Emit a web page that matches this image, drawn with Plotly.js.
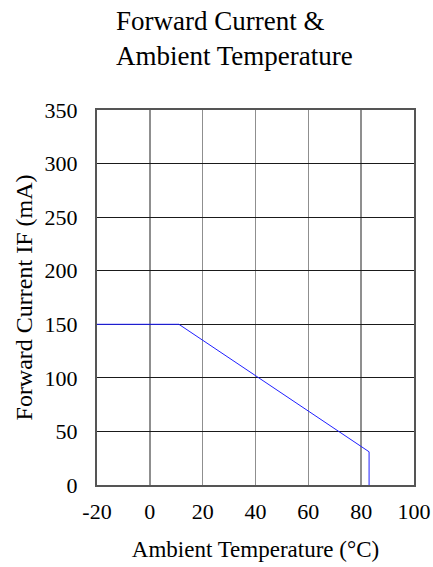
<!DOCTYPE html>
<html><head><meta charset="utf-8">
<script src="https://cdn.plot.ly/plotly-3.0.1.min.js"></script>
<style>html,body{margin:0;padding:0;background:#fff}#chart{width:433px;height:567px}</style>
</head><body><div id="chart"></div>
<script>
var tempC = [-20, 11, 83, 83];
var currentMA = [150, 150, 31, 0];
var xTicks = [-20, 0, 20, 40, 60, 80, 100];
var yTicks = [0, 50, 100, 150, 200, 250, 300, 350];

var serif = "Liberation Serif, Times New Roman, serif";
var trace = {
  x: tempC, y: currentMA, mode: 'lines', type: 'scatter',
  line: {color: '#2020ff', width: 1}, hoverinfo: 'skip', showlegend: false
};
var layout = {
  width: 433, height: 567,
  margin: {l: 97, r: 19, t: 110, b: 82},
  paper_bgcolor: '#fff', plot_bgcolor: '#fff',
  font: {family: serif, color: '#000', size: 22},
  title: {text: 'Forward Current &amp;<br>Ambient Temperature', x: 116/433, xref: 'container', xanchor: 'left',
          y: 1 - 30/567, yref: 'container', yanchor: 'middle', font: {family: serif, size: 27, color: '#000'}},
  xaxis: {range: [-20, 100], tickvals: xTicks, ticktext: xTicks.map(String), ticks: '',
          showgrid: true, gridcolor: '#8f8f8f', gridwidth: 1.5, zeroline: false,
          showline: true, linecolor: '#555', linewidth: 2, mirror: true,
          tickfont: {family: serif, size: 22}, ticklabelstandoff: 6,
          title: {text: 'Ambient Temperature (°C)', font: {family: serif, size: 23}, standoff: 17}},
  yaxis: {range: [0, 350], tickvals: yTicks, ticktext: yTicks.map(String), ticks: '',
          showgrid: true, gridcolor: '#1a1a1a', gridwidth: 1.2, zeroline: false,
          showline: true, linecolor: '#555', linewidth: 2, mirror: true,
          tickfont: {family: serif, size: 22}, ticklabelstandoff: 13,
          title: {text: 'Forward Current IF (mA)', font: {family: serif, size: 24}, standoff: 5}}
};
Plotly.newPlot('chart', [trace], layout, {displayModeBar: false, staticPlot: true});
</script></body></html>
